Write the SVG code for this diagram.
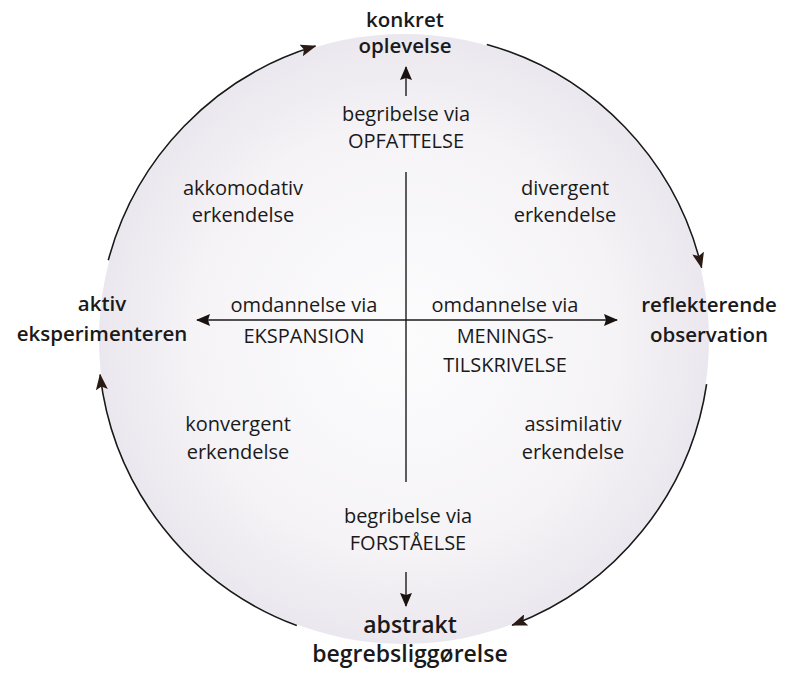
<svg xmlns="http://www.w3.org/2000/svg" width="788" height="675" viewBox="0 0 788 675">
  <defs>
    <radialGradient id="bg" cx="50%" cy="50%" r="50%">
      <stop offset="0" stop-color="#fcfcfd"/>
      <stop offset="0.7" stop-color="#f5f3f6"/>
      <stop offset="1" stop-color="#ebe7ee"/>
    </radialGradient>
    <marker id="ah" viewBox="0 0 16 12" refX="15" refY="6" markerWidth="16" markerHeight="12" markerUnits="userSpaceOnUse" orient="auto">
      <path d="M0,0 L16,6 L0,12 L3,6 Z" fill="#2a1a14"/>
    </marker>
    <marker id="ahs" viewBox="0 0 14 12" refX="13" refY="6" markerWidth="14" markerHeight="12" markerUnits="userSpaceOnUse" orient="auto">
      <path d="M0,0 L14,6 L0,12 L2,6 Z" fill="#1a1210"/>
    </marker>
    <style>
      text { font-family: "Open Sans", "Noto Sans", "Liberation Sans", sans-serif; fill: #1a1a1a; text-anchor: middle; }
      .b { font-size: 20.5px; font-weight: 600; }
      .bl { font-size: 23px; font-weight: 600; }
      .r { font-size: 20px; font-weight: 400; }
      .arc { fill: none; stroke: #1a1a1a; stroke-width: 1.6; marker-end: url(#ah); }
      .ax { fill: none; stroke: #1a1a1a; stroke-width: 1.4; }
    </style>
  </defs>
  <rect width="788" height="675" fill="#ffffff"/>
  <circle id="bgcircle" cx="404" cy="339" r="305" fill="url(#bg)"/>

  <g id="connectors">
    <path class="arc" d="M108.3,260.3 A306,306 0 0 1 315.5,46.1"/>
    <path class="arc" d="M486.8,44.4 A306,306 0 0 1 701.6,267.6"/>
    <path class="arc" d="M706.6,384.2 A306,306 0 0 1 512.2,625.2"/>
    <path class="arc" d="M296.8,625.6 A306,306 0 0 1 100.1,374.7"/>
    <line class="ax" x1="406" y1="172" x2="406" y2="482"/>
    <line class="ax" x1="406" y1="320" x2="197" y2="320" marker-end="url(#ahs)"/>
    <line class="ax" x1="406" y1="320" x2="617" y2="320" marker-end="url(#ahs)"/>
    <line class="ax" x1="406" y1="96" x2="406" y2="67" marker-end="url(#ahs)"/>
    <line class="ax" x1="406" y1="572" x2="406" y2="606" marker-end="url(#ahs)"/>
  </g>

  <g id="konkret-oplevelse">
    <text class="b" x="405" y="27">konkret</text>
    <text class="b" x="405" y="53">oplevelse</text>
  </g>
  <g id="reflekterende-observation">
    <text class="b" x="709" y="312">reflekterende</text>
    <text class="b" x="709" y="342">observation</text>
  </g>
  <g id="abstrakt-begrebsliggoerelse">
    <text class="bl" x="410" y="633">abstrakt</text>
    <text class="bl" x="410" y="662">begrebsliggørelse</text>
  </g>
  <g id="aktiv-eksperimenteren">
    <text class="b" x="102" y="311">aktiv</text>
    <text class="b" x="102" y="341">eksperimenteren</text>
  </g>

  <g id="opfattelse">
    <text class="r" x="406" y="121">begribelse via</text>
    <text class="r" x="406" y="148">OPFATTELSE</text>
  </g>
  <g id="forstaaelse">
    <text class="r" x="408" y="523">begribelse via</text>
    <text class="r" x="408" y="550">FORSTÅELSE</text>
  </g>
  <g id="ekspansion">
    <text class="r" x="304" y="312">omdannelse via</text>
    <text class="r" x="304" y="343">EKSPANSION</text>
  </g>
  <g id="meningstilskrivelse">
    <text class="r" x="505" y="312">omdannelse via</text>
    <text class="r" x="505" y="343">MENINGS-</text>
    <text class="r" x="505" y="372">TILSKRIVELSE</text>
  </g>

  <g id="akkomodativ">
    <text class="r" x="243" y="195">akkomodativ</text>
    <text class="r" x="243" y="222">erkendelse</text>
  </g>
  <g id="divergent">
    <text class="r" x="565" y="195">divergent</text>
    <text class="r" x="565" y="222">erkendelse</text>
  </g>
  <g id="konvergent">
    <text class="r" x="238" y="431">konvergent</text>
    <text class="r" x="238" y="459">erkendelse</text>
  </g>
  <g id="assimilativ">
    <text class="r" x="573" y="431">assimilativ</text>
    <text class="r" x="573" y="459">erkendelse</text>
  </g>
</svg>
